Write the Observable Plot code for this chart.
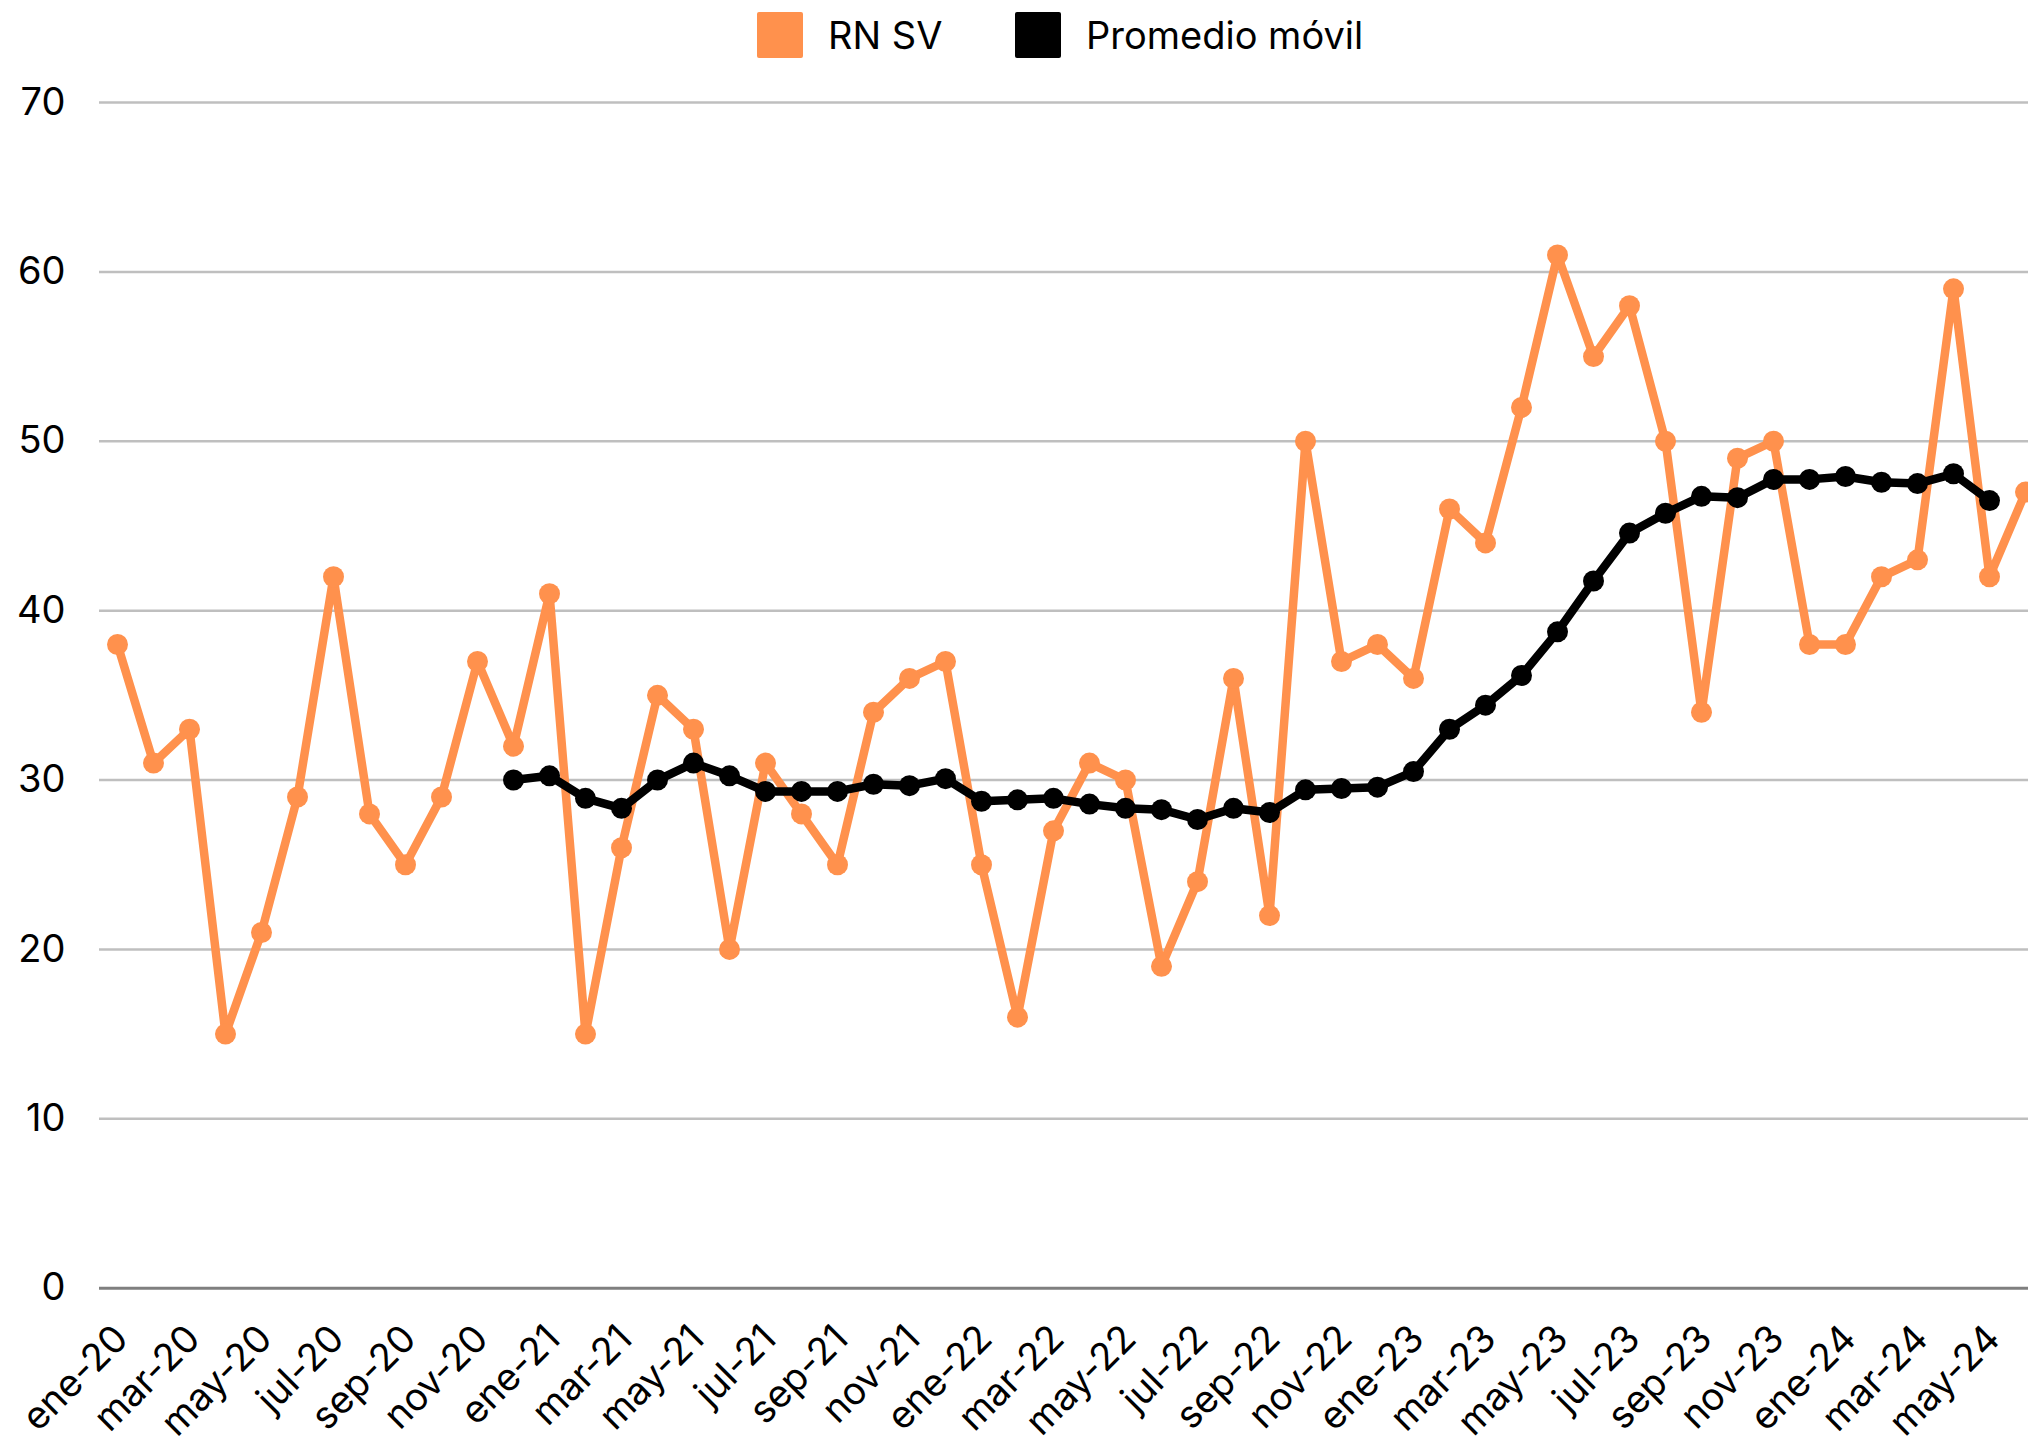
<!DOCTYPE html>
<html>
<head>
<meta charset="utf-8">
<script src="https://cdn.jsdelivr.net/npm/d3@7"></script>
<script src="https://cdn.jsdelivr.net/npm/@observablehq/plot@0.6"></script>
<style>
  html, body { margin: 0; padding: 0; background: #fff; }
  body { font-family: Inter, "Liberation Sans", sans-serif; color: #000; width: 2028px; overflow: hidden; }
  #legend { position: relative; height: 70px; width: 2028px; }
  .sw { position: absolute; top: 12px; width: 46px; height: 46px; border-radius: 2px; }
  .lt { position: absolute; top: 35px; transform: translateY(-50%); font-size: 38px; line-height: 1; white-space: nowrap; }
  #chart svg { display: block; }
</style>
</head>
<body>
<div id="legend">
  <div class="sw" style="left:757px;background:#ff914d"></div>
  <div class="lt" style="left:828px">RN SV</div>
  <div class="sw" style="left:1015px;background:#000"></div>
  <div class="lt" style="left:1086px">Promedio móvil</div>
</div>
<div id="chart"></div>
<script>
const months = [
  "ene-20","feb-20","mar-20","abr-20","may-20","jun-20","jul-20","ago-20","sep-20","oct-20","nov-20","dic-20",
  "ene-21","feb-21","mar-21","abr-21","may-21","jun-21","jul-21","ago-21","sep-21","oct-21","nov-21","dic-21",
  "ene-22","feb-22","mar-22","abr-22","may-22","jun-22","jul-22","ago-22","sep-22","oct-22","nov-22","dic-22",
  "ene-23","feb-23","mar-23","abr-23","may-23","jun-23","jul-23","ago-23","sep-23","oct-23","nov-23","dic-23",
  "ene-24","feb-24","mar-24","abr-24","may-24","jun-24"
];
const rnsv = [
  38,31,33,15,21,29,42,28,25,29,37,32,
  41,15,26,35,33,20,31,28,25,34,36,37,
  25,16,27,31,30,19,24,36,22,50,37,38,
  36,46,44,52,61,55,58,50,34,49,50,38,
  38,42,43,59,42,47
];
const avgMonths = [
  "dic-20",
  "ene-21","feb-21","mar-21","abr-21","may-21","jun-21","jul-21","ago-21","sep-21","oct-21","nov-21","dic-21",
  "ene-22","feb-22","mar-22","abr-22","may-22","jun-22","jul-22","ago-22","sep-22","oct-22","nov-22","dic-22",
  "ene-23","feb-23","mar-23","abr-23","may-23","jun-23","jul-23","ago-23","sep-23","oct-23","nov-23","dic-23",
  "ene-24","feb-24","mar-24","abr-24","may-24"
];
const movAvg = [
  30.00,
  30.25,28.92,28.33,30.00,31.00,30.25,29.33,29.33,29.33,29.75,29.67,30.08,
  28.75,28.83,28.92,28.58,28.33,28.25,27.67,28.33,28.08,29.42,29.50,29.58,
  30.50,33.00,34.42,36.17,38.75,41.75,44.58,45.75,46.75,46.67,47.75,47.75,
  47.92,47.58,47.50,48.08,46.50
];
const xTickLabels = [
  "ene-20","mar-20","may-20","jul-20","sep-20","nov-20",
  "ene-21","mar-21","may-21","jul-21","sep-21","nov-21",
  "ene-22","mar-22","may-22","jul-22","sep-22","nov-22",
  "ene-23","mar-23","may-23","jul-23","sep-23","nov-23",
  "ene-24","mar-24","may-24"
];
const yTicks = [0,10,20,30,40,50,60,70];

const seriesData = months.map((m, i) => ({m, v: rnsv[i]}));
const avgData = avgMonths.map((m, i) => ({m, v: movAvg[i]}));

const chart = Plot.plot({
  width: 2028,
  height: 1369,
  marginTop: 32,
  marginBottom: 151.3,
  marginLeft: 99,
  marginRight: 0,
  style: {fontFamily: "Inter, 'Liberation Sans', sans-serif", fontSize: "38px", color: "#000", background: "#fff"},
  x: {type: "point", domain: months, range: [117.3, 2025.3], padding: 0, axis: null},
  y: {domain: [0, 70], axis: null},
  marks: [
    Plot.ruleY(yTicks.filter(t => t > 0), {stroke: "#bfbfbf", strokeWidth: 2.5}),
    Plot.ruleY([0], {stroke: "#7f7f7f", strokeWidth: 3}),
    Plot.text(yTicks, {y: d => d, frameAnchor: "left", textAnchor: "end", dx: -34, text: d => String(d), fontSize: 38, fill: "#000"}),
    Plot.line(seriesData, {x: "m", y: "v", stroke: "#ff914d", strokeWidth: 8.5, strokeLinejoin: "round", strokeLinecap: "round"}),
    Plot.dot(seriesData, {x: "m", y: "v", r: 10.5, fill: "#ff914d", stroke: "none"}),
    Plot.line(avgData, {x: "m", y: "v", stroke: "#000", strokeWidth: 8.5, strokeLinejoin: "round", strokeLinecap: "round"}),
    Plot.dot(avgData, {x: "m", y: "v", r: 10.5, fill: "#000", stroke: "none"}),
    Plot.text(xTickLabels, {x: d => d, text: d => d, frameAnchor: "bottom", rotate: -45, textAnchor: "end", lineAnchor: "middle", dx: 4, dy: 44, fontSize: 38, fill: "#000"})
  ]
});
document.getElementById("chart").appendChild(chart);
</script>
</body>
</html>
